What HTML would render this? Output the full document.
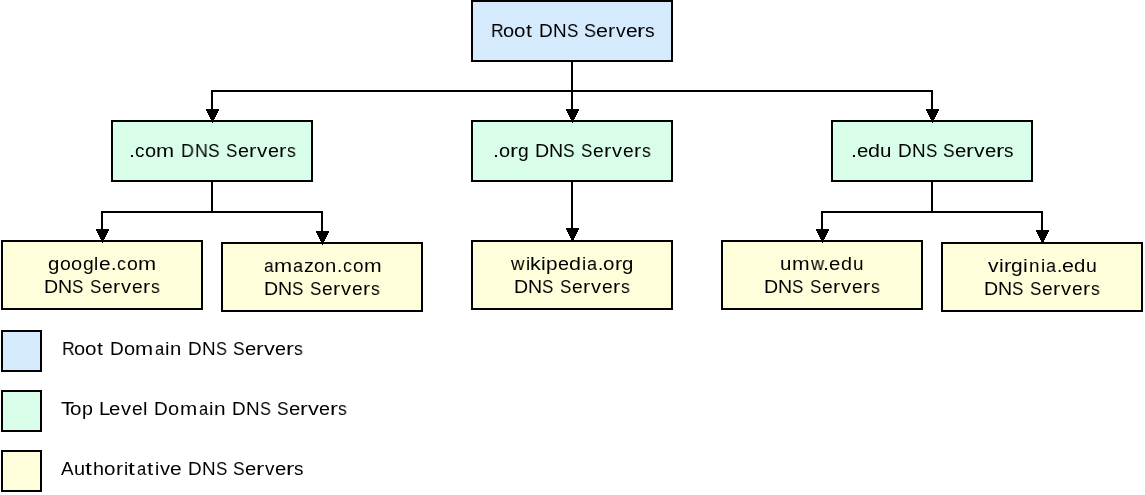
<!DOCTYPE html>
<html><head><meta charset="utf-8"><style>
html,body{margin:0;padding:0;background:#fff;width:1145px;height:495px;overflow:hidden;position:relative}
body>div{position:absolute}
.b{box-sizing:border-box;border:2px solid #000}
.t{font-family:"Liberation Sans",sans-serif;font-size:18.9px;line-height:30px;white-space:pre;color:#000;transform-origin:0 0;will-change:transform}
</style></head><body>
<div class="b" style="left:471px;top:0px;width:202px;height:62px;background:#d6eafd"></div>
<div class="b" style="left:111px;top:120px;width:202px;height:62px;background:#d8fde9"></div>
<div class="b" style="left:471px;top:120px;width:202px;height:62px;background:#d8fde9"></div>
<div class="b" style="left:831px;top:120px;width:202px;height:62px;background:#d8fde9"></div>
<div class="b" style="left:1px;top:240px;width:202px;height:70px;background:#feffda"></div>
<div class="b" style="left:221px;top:242px;width:202px;height:70px;background:#feffda"></div>
<div class="b" style="left:471px;top:240px;width:202px;height:70px;background:#feffda"></div>
<div class="b" style="left:721px;top:240px;width:202px;height:70px;background:#feffda"></div>
<div class="b" style="left:941px;top:242px;width:202px;height:70px;background:#feffda"></div>
<div class="b" style="left:1px;top:330px;width:41px;height:42px;background:#d6eafd"></div>
<div class="b" style="left:1px;top:390px;width:41px;height:42px;background:#d8fde9"></div>
<div class="b" style="left:1px;top:450px;width:41px;height:42px;background:#feffda"></div>
<div style="left:571px;top:62px;width:2px;height:47px;background:#000"></div>
<div style="left:211px;top:90px;width:722px;height:2px;background:#000"></div>
<div style="left:211px;top:90px;width:2px;height:19px;background:#000"></div>
<div style="left:931px;top:90px;width:2px;height:19px;background:#000"></div>
<div style="left:211px;top:182px;width:2px;height:31px;background:#000"></div>
<div style="left:101px;top:211px;width:222px;height:2px;background:#000"></div>
<div style="left:101px;top:211px;width:2px;height:18px;background:#000"></div>
<div style="left:321px;top:211px;width:2px;height:20px;background:#000"></div>
<div style="left:571px;top:182px;width:2px;height:46px;background:#000"></div>
<div style="left:931px;top:182px;width:2px;height:31px;background:#000"></div>
<div style="left:821px;top:211px;width:222px;height:2px;background:#000"></div>
<div style="left:821px;top:211px;width:2px;height:18px;background:#000"></div>
<div style="left:1041px;top:211px;width:2px;height:19px;background:#000"></div>
<div style="left:566px;top:109px;width:13px;height:2px;background:#000"></div>
<div style="left:567px;top:111px;width:11px;height:2px;background:#000"></div>
<div style="left:568px;top:113px;width:9px;height:2px;background:#000"></div>
<div style="left:569px;top:115px;width:7px;height:2px;background:#000"></div>
<div style="left:570px;top:117px;width:5px;height:2px;background:#000"></div>
<div style="left:571px;top:119px;width:3px;height:2px;background:#000"></div>
<div style="left:572px;top:121px;width:1px;height:2px;background:#000"></div>
<div style="left:206px;top:109px;width:13px;height:2px;background:#000"></div>
<div style="left:207px;top:111px;width:11px;height:2px;background:#000"></div>
<div style="left:208px;top:113px;width:9px;height:2px;background:#000"></div>
<div style="left:209px;top:115px;width:7px;height:2px;background:#000"></div>
<div style="left:210px;top:117px;width:5px;height:2px;background:#000"></div>
<div style="left:211px;top:119px;width:3px;height:2px;background:#000"></div>
<div style="left:212px;top:121px;width:1px;height:2px;background:#000"></div>
<div style="left:926px;top:109px;width:13px;height:2px;background:#000"></div>
<div style="left:927px;top:111px;width:11px;height:2px;background:#000"></div>
<div style="left:928px;top:113px;width:9px;height:2px;background:#000"></div>
<div style="left:929px;top:115px;width:7px;height:2px;background:#000"></div>
<div style="left:930px;top:117px;width:5px;height:2px;background:#000"></div>
<div style="left:931px;top:119px;width:3px;height:2px;background:#000"></div>
<div style="left:932px;top:121px;width:1px;height:2px;background:#000"></div>
<div style="left:96px;top:229px;width:13px;height:2px;background:#000"></div>
<div style="left:97px;top:231px;width:11px;height:2px;background:#000"></div>
<div style="left:98px;top:233px;width:9px;height:2px;background:#000"></div>
<div style="left:99px;top:235px;width:7px;height:2px;background:#000"></div>
<div style="left:100px;top:237px;width:5px;height:2px;background:#000"></div>
<div style="left:101px;top:239px;width:3px;height:2px;background:#000"></div>
<div style="left:102px;top:241px;width:1px;height:2px;background:#000"></div>
<div style="left:316px;top:231px;width:13px;height:2px;background:#000"></div>
<div style="left:317px;top:233px;width:11px;height:2px;background:#000"></div>
<div style="left:318px;top:235px;width:9px;height:2px;background:#000"></div>
<div style="left:319px;top:237px;width:7px;height:2px;background:#000"></div>
<div style="left:320px;top:239px;width:5px;height:2px;background:#000"></div>
<div style="left:321px;top:241px;width:3px;height:2px;background:#000"></div>
<div style="left:322px;top:243px;width:1px;height:2px;background:#000"></div>
<div style="left:566px;top:228px;width:13px;height:2px;background:#000"></div>
<div style="left:567px;top:230px;width:11px;height:2px;background:#000"></div>
<div style="left:568px;top:232px;width:9px;height:2px;background:#000"></div>
<div style="left:569px;top:234px;width:7px;height:2px;background:#000"></div>
<div style="left:570px;top:236px;width:5px;height:2px;background:#000"></div>
<div style="left:571px;top:238px;width:3px;height:2px;background:#000"></div>
<div style="left:572px;top:240px;width:1px;height:2px;background:#000"></div>
<div style="left:816px;top:229px;width:13px;height:2px;background:#000"></div>
<div style="left:817px;top:231px;width:11px;height:2px;background:#000"></div>
<div style="left:818px;top:233px;width:9px;height:2px;background:#000"></div>
<div style="left:819px;top:235px;width:7px;height:2px;background:#000"></div>
<div style="left:820px;top:237px;width:5px;height:2px;background:#000"></div>
<div style="left:821px;top:239px;width:3px;height:2px;background:#000"></div>
<div style="left:822px;top:241px;width:1px;height:2px;background:#000"></div>
<div style="left:1036px;top:230px;width:13px;height:2px;background:#000"></div>
<div style="left:1037px;top:232px;width:11px;height:2px;background:#000"></div>
<div style="left:1038px;top:234px;width:9px;height:2px;background:#000"></div>
<div style="left:1039px;top:236px;width:7px;height:2px;background:#000"></div>
<div style="left:1040px;top:238px;width:5px;height:2px;background:#000"></div>
<div style="left:1041px;top:240px;width:3px;height:2px;background:#000"></div>
<div style="left:1042px;top:242px;width:1px;height:2px;background:#000"></div>
<div class="t" style="left:491.34px;top:16px;transform:scaleX(0.931)">R</div>
<div class="t" style="left:503.04px;top:16px;transform:scaleX(1.059)">o</div>
<div class="t" style="left:514.37px;top:16px;transform:scaleX(1.089)">o</div>
<div class="t" style="left:526.05px;top:16px;transform:scaleX(1.130)">t</div>
<div class="t" style="left:539.07px;top:16px;transform:scaleX(1.005)">D</div>
<div class="t" style="left:553.37px;top:16px;transform:scaleX(0.975)">N</div>
<div class="t" style="left:567.14px;top:16px;transform:scaleX(0.893)">S</div>
<div class="t" style="left:583.78px;top:16px;transform:scaleX(0.953)">S</div>
<div class="t" style="left:596.35px;top:16px;transform:scaleX(1.136)">e</div>
<div class="t" style="left:607.79px;top:16px;transform:scaleX(1.130)">r</div>
<div class="t" style="left:615.76px;top:16px;transform:scaleX(1.030)">v</div>
<div class="t" style="left:626.30px;top:16px;transform:scaleX(1.106)">e</div>
<div class="t" style="left:636.74px;top:16px;transform:scaleX(1.280)">r</div>
<div class="t" style="left:644.58px;top:16px;transform:scaleX(1.018)">s</div>
<div class="t" style="left:128.80px;top:136px;transform:scaleX(1.132)">.</div>
<div class="t" style="left:134.61px;top:136px;transform:scaleX(0.990)">c</div>
<div class="t" style="left:144.70px;top:136px;transform:scaleX(1.059)">o</div>
<div class="t" style="left:156.22px;top:136px;transform:scaleX(1.151)">m</div>
<div class="t" style="left:181.16px;top:136px;transform:scaleX(0.945)">D</div>
<div class="t" style="left:195.46px;top:136px;transform:scaleX(0.945)">N</div>
<div class="t" style="left:208.23px;top:136px;transform:scaleX(0.923)">S</div>
<div class="t" style="left:225.88px;top:136px;transform:scaleX(0.893)">S</div>
<div class="t" style="left:238.44px;top:136px;transform:scaleX(1.046)">e</div>
<div class="t" style="left:248.89px;top:136px;transform:scaleX(1.160)">r</div>
<div class="t" style="left:256.86px;top:136px;transform:scaleX(1.090)">v</div>
<div class="t" style="left:268.40px;top:136px;transform:scaleX(1.046)">e</div>
<div class="t" style="left:278.84px;top:136px;transform:scaleX(1.160)">r</div>
<div class="t" style="left:286.67px;top:136px;transform:scaleX(0.928)">s</div>
<div class="t" style="left:493.00px;top:136px;transform:scaleX(1.132)">.</div>
<div class="t" style="left:498.73px;top:136px;transform:scaleX(1.059)">o</div>
<div class="t" style="left:510.12px;top:136px;transform:scaleX(1.250)">r</div>
<div class="t" style="left:518.32px;top:136px;transform:scaleX(1.019)">g</div>
<div class="t" style="left:535.19px;top:136px;transform:scaleX(1.035)">D</div>
<div class="t" style="left:549.49px;top:136px;transform:scaleX(1.035)">N</div>
<div class="t" style="left:563.26px;top:136px;transform:scaleX(0.923)">S</div>
<div class="t" style="left:580.90px;top:136px;transform:scaleX(0.893)">S</div>
<div class="t" style="left:593.47px;top:136px;transform:scaleX(1.016)">e</div>
<div class="t" style="left:603.91px;top:136px;transform:scaleX(1.160)">r</div>
<div class="t" style="left:611.88px;top:136px;transform:scaleX(1.060)">v</div>
<div class="t" style="left:623.42px;top:136px;transform:scaleX(1.016)">e</div>
<div class="t" style="left:633.87px;top:136px;transform:scaleX(1.130)">r</div>
<div class="t" style="left:641.70px;top:136px;transform:scaleX(0.928)">s</div>
<div class="t" style="left:850.73px;top:136px;transform:scaleX(1.132)">.</div>
<div class="t" style="left:857.47px;top:136px;transform:scaleX(1.076)">e</div>
<div class="t" style="left:867.83px;top:136px;transform:scaleX(1.139)">d</div>
<div class="t" style="left:879.82px;top:136px;transform:scaleX(1.087)">u</div>
<div class="t" style="left:898.44px;top:136px;transform:scaleX(0.975)">D</div>
<div class="t" style="left:911.73px;top:136px;transform:scaleX(0.975)">N</div>
<div class="t" style="left:925.51px;top:136px;transform:scaleX(0.893)">S</div>
<div class="t" style="left:943.15px;top:136px;transform:scaleX(0.923)">S</div>
<div class="t" style="left:954.72px;top:136px;transform:scaleX(1.076)">e</div>
<div class="t" style="left:966.16px;top:136px;transform:scaleX(1.250)">r</div>
<div class="t" style="left:974.13px;top:136px;transform:scaleX(1.120)">v</div>
<div class="t" style="left:984.67px;top:136px;transform:scaleX(1.076)">e</div>
<div class="t" style="left:996.11px;top:136px;transform:scaleX(1.310)">r</div>
<div class="t" style="left:1003.95px;top:136px;transform:scaleX(0.958)">s</div>
<div class="t" style="left:48.30px;top:249px;transform:scaleX(1.079)">g</div>
<div class="t" style="left:60.06px;top:249px;transform:scaleX(1.029)">o</div>
<div class="t" style="left:71.39px;top:249px;transform:scaleX(1.059)">o</div>
<div class="t" style="left:82.70px;top:249px;transform:scaleX(1.019)">g</div>
<div class="t" style="left:93.89px;top:249px;transform:scaleX(0.947)">l</div>
<div class="t" style="left:98.62px;top:249px;transform:scaleX(1.106)">e</div>
<div class="t" style="left:111.17px;top:249px;transform:scaleX(1.042)">.</div>
<div class="t" style="left:116.97px;top:249px;transform:scaleX(0.930)">c</div>
<div class="t" style="left:127.06px;top:249px;transform:scaleX(1.029)">o</div>
<div class="t" style="left:137.58px;top:249px;transform:scaleX(1.151)">m</div>
<div class="t" style="left:43.94px;top:272px;transform:scaleX(1.035)">D</div>
<div class="t" style="left:58.24px;top:272px;transform:scaleX(1.035)">N</div>
<div class="t" style="left:72.02px;top:272px;transform:scaleX(0.893)">S</div>
<div class="t" style="left:89.66px;top:272px;transform:scaleX(0.893)">S</div>
<div class="t" style="left:102.22px;top:272px;transform:scaleX(1.016)">e</div>
<div class="t" style="left:112.67px;top:272px;transform:scaleX(1.130)">r</div>
<div class="t" style="left:120.64px;top:272px;transform:scaleX(1.060)">v</div>
<div class="t" style="left:132.18px;top:272px;transform:scaleX(1.016)">e</div>
<div class="t" style="left:142.62px;top:272px;transform:scaleX(1.130)">r</div>
<div class="t" style="left:151.46px;top:272px;transform:scaleX(0.928)">s</div>
<div class="t" style="left:263.52px;top:251px;transform:scaleX(0.924)">a</div>
<div class="t" style="left:273.76px;top:251px;transform:scaleX(1.151)">m</div>
<div class="t" style="left:292.89px;top:251px;transform:scaleX(0.954)">a</div>
<div class="t" style="left:303.90px;top:251px;transform:scaleX(1.050)">z</div>
<div class="t" style="left:313.66px;top:251px;transform:scaleX(0.999)">o</div>
<div class="t" style="left:325.28px;top:251px;transform:scaleX(1.072)">n</div>
<div class="t" style="left:336.89px;top:251px;transform:scaleX(0.982)">.</div>
<div class="t" style="left:342.69px;top:251px;transform:scaleX(0.930)">c</div>
<div class="t" style="left:352.79px;top:251px;transform:scaleX(0.999)">o</div>
<div class="t" style="left:364.30px;top:251px;transform:scaleX(1.121)">m</div>
<div class="t" style="left:263.94px;top:274px;transform:scaleX(1.035)">D</div>
<div class="t" style="left:278.24px;top:274px;transform:scaleX(1.035)">N</div>
<div class="t" style="left:292.02px;top:274px;transform:scaleX(0.893)">S</div>
<div class="t" style="left:309.66px;top:274px;transform:scaleX(0.893)">S</div>
<div class="t" style="left:322.22px;top:274px;transform:scaleX(1.016)">e</div>
<div class="t" style="left:332.67px;top:274px;transform:scaleX(1.130)">r</div>
<div class="t" style="left:340.64px;top:274px;transform:scaleX(1.060)">v</div>
<div class="t" style="left:352.18px;top:274px;transform:scaleX(1.016)">e</div>
<div class="t" style="left:362.62px;top:274px;transform:scaleX(1.130)">r</div>
<div class="t" style="left:371.46px;top:274px;transform:scaleX(0.928)">s</div>
<div class="t" style="left:511.25px;top:249px;transform:scaleX(0.985)">w</div>
<div class="t" style="left:525.94px;top:249px;transform:scaleX(0.957)">i</div>
<div class="t" style="left:529.90px;top:249px;transform:scaleX(1.138)">k</div>
<div class="t" style="left:541.29px;top:249px;transform:scaleX(1.137)">i</div>
<div class="t" style="left:545.83px;top:249px;transform:scaleX(1.098)">p</div>
<div class="t" style="left:558.29px;top:249px;transform:scaleX(1.046)">e</div>
<div class="t" style="left:568.65px;top:249px;transform:scaleX(1.139)">d</div>
<div class="t" style="left:581.83px;top:249px;transform:scaleX(0.957)">i</div>
<div class="t" style="left:586.85px;top:249px;transform:scaleX(0.954)">a</div>
<div class="t" style="left:598.07px;top:249px;transform:scaleX(0.982)">.</div>
<div class="t" style="left:602.80px;top:249px;transform:scaleX(1.089)">o</div>
<div class="t" style="left:615.18px;top:249px;transform:scaleX(1.130)">r</div>
<div class="t" style="left:622.39px;top:249px;transform:scaleX(1.079)">g</div>
<div class="t" style="left:513.94px;top:272px;transform:scaleX(1.035)">D</div>
<div class="t" style="left:528.24px;top:272px;transform:scaleX(1.035)">N</div>
<div class="t" style="left:542.02px;top:272px;transform:scaleX(0.893)">S</div>
<div class="t" style="left:559.66px;top:272px;transform:scaleX(0.893)">S</div>
<div class="t" style="left:572.22px;top:272px;transform:scaleX(1.016)">e</div>
<div class="t" style="left:582.67px;top:272px;transform:scaleX(1.130)">r</div>
<div class="t" style="left:590.64px;top:272px;transform:scaleX(1.060)">v</div>
<div class="t" style="left:602.18px;top:272px;transform:scaleX(1.016)">e</div>
<div class="t" style="left:612.62px;top:272px;transform:scaleX(1.130)">r</div>
<div class="t" style="left:621.46px;top:272px;transform:scaleX(0.928)">s</div>
<div class="t" style="left:780.07px;top:249px;transform:scaleX(1.087)">u</div>
<div class="t" style="left:791.77px;top:249px;transform:scaleX(1.121)">m</div>
<div class="t" style="left:811.48px;top:249px;transform:scaleX(0.955)">w</div>
<div class="t" style="left:823.22px;top:249px;transform:scaleX(1.162)">.</div>
<div class="t" style="left:828.95px;top:249px;transform:scaleX(1.076)">e</div>
<div class="t" style="left:841.32px;top:249px;transform:scaleX(1.049)">d</div>
<div class="t" style="left:853.30px;top:249px;transform:scaleX(0.997)">u</div>
<div class="t" style="left:763.94px;top:272px;transform:scaleX(1.035)">D</div>
<div class="t" style="left:778.24px;top:272px;transform:scaleX(1.035)">N</div>
<div class="t" style="left:792.02px;top:272px;transform:scaleX(0.893)">S</div>
<div class="t" style="left:809.66px;top:272px;transform:scaleX(0.893)">S</div>
<div class="t" style="left:822.22px;top:272px;transform:scaleX(1.016)">e</div>
<div class="t" style="left:832.67px;top:272px;transform:scaleX(1.130)">r</div>
<div class="t" style="left:840.64px;top:272px;transform:scaleX(1.060)">v</div>
<div class="t" style="left:852.18px;top:272px;transform:scaleX(1.016)">e</div>
<div class="t" style="left:862.62px;top:272px;transform:scaleX(1.130)">r</div>
<div class="t" style="left:871.46px;top:272px;transform:scaleX(0.928)">s</div>
<div class="t" style="left:988.32px;top:251px;transform:scaleX(1.120)">v</div>
<div class="t" style="left:999.26px;top:251px;transform:scaleX(1.137)">i</div>
<div class="t" style="left:1004.05px;top:251px;transform:scaleX(1.160)">r</div>
<div class="t" style="left:1011.26px;top:251px;transform:scaleX(1.109)">g</div>
<div class="t" style="left:1023.43px;top:251px;transform:scaleX(1.137)">i</div>
<div class="t" style="left:1029.46px;top:251px;transform:scaleX(0.982)">n</div>
<div class="t" style="left:1040.81px;top:251px;transform:scaleX(0.957)">i</div>
<div class="t" style="left:1046.33px;top:251px;transform:scaleX(0.954)">a</div>
<div class="t" style="left:1056.55px;top:251px;transform:scaleX(0.982)">.</div>
<div class="t" style="left:1062.28px;top:251px;transform:scaleX(1.136)">e</div>
<div class="t" style="left:1073.65px;top:251px;transform:scaleX(1.079)">d</div>
<div class="t" style="left:1085.63px;top:251px;transform:scaleX(1.027)">u</div>
<div class="t" style="left:983.94px;top:274px;transform:scaleX(1.035)">D</div>
<div class="t" style="left:998.24px;top:274px;transform:scaleX(1.035)">N</div>
<div class="t" style="left:1012.02px;top:274px;transform:scaleX(0.893)">S</div>
<div class="t" style="left:1029.66px;top:274px;transform:scaleX(0.893)">S</div>
<div class="t" style="left:1042.22px;top:274px;transform:scaleX(1.016)">e</div>
<div class="t" style="left:1052.67px;top:274px;transform:scaleX(1.130)">r</div>
<div class="t" style="left:1060.64px;top:274px;transform:scaleX(1.060)">v</div>
<div class="t" style="left:1072.18px;top:274px;transform:scaleX(1.016)">e</div>
<div class="t" style="left:1082.62px;top:274px;transform:scaleX(1.130)">r</div>
<div class="t" style="left:1091.46px;top:274px;transform:scaleX(0.928)">s</div>
<div class="t" style="left:61.91px;top:334px;transform:scaleX(0.931)">R</div>
<div class="t" style="left:73.61px;top:334px;transform:scaleX(1.059)">o</div>
<div class="t" style="left:84.94px;top:334px;transform:scaleX(1.089)">o</div>
<div class="t" style="left:96.62px;top:334px;transform:scaleX(1.130)">t</div>
<div class="t" style="left:109.64px;top:334px;transform:scaleX(1.005)">D</div>
<div class="t" style="left:123.68px;top:334px;transform:scaleX(1.059)">o</div>
<div class="t" style="left:135.19px;top:334px;transform:scaleX(1.151)">m</div>
<div class="t" style="left:154.83px;top:334px;transform:scaleX(0.864)">a</div>
<div class="t" style="left:164.79px;top:334px;transform:scaleX(1.077)">i</div>
<div class="t" style="left:169.81px;top:334px;transform:scaleX(1.072)">n</div>
<div class="t" style="left:188.36px;top:334px;transform:scaleX(0.975)">D</div>
<div class="t" style="left:201.65px;top:334px;transform:scaleX(0.975)">N</div>
<div class="t" style="left:216.43px;top:334px;transform:scaleX(0.863)">S</div>
<div class="t" style="left:233.07px;top:334px;transform:scaleX(0.923)">S</div>
<div class="t" style="left:244.64px;top:334px;transform:scaleX(1.076)">e</div>
<div class="t" style="left:256.08px;top:334px;transform:scaleX(1.220)">r</div>
<div class="t" style="left:264.05px;top:334px;transform:scaleX(1.150)">v</div>
<div class="t" style="left:274.59px;top:334px;transform:scaleX(1.046)">e</div>
<div class="t" style="left:286.03px;top:334px;transform:scaleX(1.250)">r</div>
<div class="t" style="left:293.87px;top:334px;transform:scaleX(0.928)">s</div>
<div class="t" style="left:61.18px;top:394px;transform:scaleX(1.135)">T</div>
<div class="t" style="left:69.86px;top:394px;transform:scaleX(1.089)">o</div>
<div class="t" style="left:82.49px;top:394px;transform:scaleX(1.038)">p</div>
<div class="t" style="left:99.03px;top:394px;transform:scaleX(1.071)">L</div>
<div class="t" style="left:108.82px;top:394px;transform:scaleX(1.076)">e</div>
<div class="t" style="left:120.62px;top:394px;transform:scaleX(1.060)">v</div>
<div class="t" style="left:132.16px;top:394px;transform:scaleX(1.016)">e</div>
<div class="t" style="left:142.97px;top:394px;transform:scaleX(1.067)">l</div>
<div class="t" style="left:153.79px;top:394px;transform:scaleX(1.005)">D</div>
<div class="t" style="left:167.83px;top:394px;transform:scaleX(1.059)">o</div>
<div class="t" style="left:180.35px;top:394px;transform:scaleX(1.091)">m</div>
<div class="t" style="left:198.98px;top:394px;transform:scaleX(0.864)">a</div>
<div class="t" style="left:208.94px;top:394px;transform:scaleX(1.077)">i</div>
<div class="t" style="left:213.96px;top:394px;transform:scaleX(1.102)">n</div>
<div class="t" style="left:231.51px;top:394px;transform:scaleX(0.975)">D</div>
<div class="t" style="left:245.81px;top:394px;transform:scaleX(0.975)">N</div>
<div class="t" style="left:259.58px;top:394px;transform:scaleX(0.863)">S</div>
<div class="t" style="left:277.22px;top:394px;transform:scaleX(0.923)">S</div>
<div class="t" style="left:288.79px;top:394px;transform:scaleX(1.076)">e</div>
<div class="t" style="left:300.23px;top:394px;transform:scaleX(1.220)">r</div>
<div class="t" style="left:308.20px;top:394px;transform:scaleX(1.150)">v</div>
<div class="t" style="left:318.74px;top:394px;transform:scaleX(1.046)">e</div>
<div class="t" style="left:330.19px;top:394px;transform:scaleX(1.250)">r</div>
<div class="t" style="left:338.02px;top:394px;transform:scaleX(0.928)">s</div>
<div class="t" style="left:60.55px;top:454px;transform:scaleX(0.987)">A</div>
<div class="t" style="left:74.37px;top:454px;transform:scaleX(1.057)">u</div>
<div class="t" style="left:85.23px;top:454px;transform:scaleX(1.310)">t</div>
<div class="t" style="left:93.41px;top:454px;transform:scaleX(1.045)">h</div>
<div class="t" style="left:103.88px;top:454px;transform:scaleX(1.089)">o</div>
<div class="t" style="left:116.27px;top:454px;transform:scaleX(1.130)">r</div>
<div class="t" style="left:124.23px;top:454px;transform:scaleX(0.957)">i</div>
<div class="t" style="left:128.31px;top:454px;transform:scaleX(1.310)">t</div>
<div class="t" style="left:136.52px;top:454px;transform:scaleX(0.864)">a</div>
<div class="t" style="left:146.92px;top:454px;transform:scaleX(1.190)">t</div>
<div class="t" style="left:155.24px;top:454px;transform:scaleX(0.957)">i</div>
<div class="t" style="left:160.39px;top:454px;transform:scaleX(1.060)">v</div>
<div class="t" style="left:169.94px;top:454px;transform:scaleX(1.106)">e</div>
<div class="t" style="left:188.42px;top:454px;transform:scaleX(0.975)">D</div>
<div class="t" style="left:201.72px;top:454px;transform:scaleX(0.975)">N</div>
<div class="t" style="left:216.49px;top:454px;transform:scaleX(0.893)">S</div>
<div class="t" style="left:233.13px;top:454px;transform:scaleX(0.923)">S</div>
<div class="t" style="left:244.70px;top:454px;transform:scaleX(1.076)">e</div>
<div class="t" style="left:256.14px;top:454px;transform:scaleX(1.310)">r</div>
<div class="t" style="left:265.11px;top:454px;transform:scaleX(1.000)">v</div>
<div class="t" style="left:274.65px;top:454px;transform:scaleX(1.076)">e</div>
<div class="t" style="left:286.10px;top:454px;transform:scaleX(1.310)">r</div>
<div class="t" style="left:293.93px;top:454px;transform:scaleX(0.958)">s</div>
</body></html>
